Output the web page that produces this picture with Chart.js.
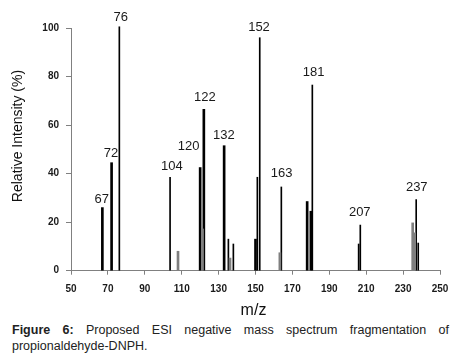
<!DOCTYPE html>
<html>
<head>
<meta charset="utf-8">
<script src="https://cdn.jsdelivr.net/npm/chart.js@4.4.0/dist/chart.umd.min.js"></script>
<style>
  html, body { margin: 0; padding: 0; background: #fff; }
  #wrap { position: relative; width: 457px; height: 359px; overflow: hidden; }
  #chartBox { position: absolute; left: 0; top: 0; width: 457px; height: 320px; }
  #caption {
    position: absolute; left: 12px; top: 323px; width: 437px;
    font-family: "Liberation Sans", Arial, sans-serif; font-size: 12.5px; line-height: 15.6px;
    color: #222; text-align: justify;
  }
  #caption b { font-weight: bold; }
</style>
</head>
<body>
<div id="wrap">
  <div id="chartBox"><canvas id="c" width="457" height="320"></canvas></div>
  <div id="caption"><b>Figure 6:</b> Proposed ESI negative mass spectrum fragmentation of propionaldehyde-DNPH.</div>
</div>
<script>
// ---- Data ----
// thick black peaks (m/z, relative intensity %)
const thickMz  = [67, 72, 120, 122, 133, 150, 178, 180];
const thickInt = [26, 44.5, 42.5, 66.5, 51.5, 13, 28.5, 24.5];
// thin black peaks
const thinMz   = [76.2, 103.7, 135.3, 138, 151, 152.3, 164, 180.8, 205.9, 206.8, 237.1, 238.2];
const thinInt  = [100.5, 38.5, 13, 11, 38.5, 96, 34.5, 76.5, 11, 18.8, 29.3, 11.4];
// grey peaks
const greyMz   = [108, 121.3, 136.2, 163.2, 235.2, 236.3];
const greyInt  = [8, 17.2, 5.2, 7.4, 19.7, 15.6];
// peak annotation labels and their anchor (m/z, intensity)
const labelText = ['67', '72', '76', '104', '120', '122', '132', '152', '163', '181', '207', '237'];
const labelMz   = [66.6, 71.7, 76.9, 104.7, 113.8, 122.5, 132.9, 151.9, 164.2, 181.5, 206.5, 237.4];
const labelInt  = [29.5, 48.4, 104.5, 42.9, 51.1, 71.3, 55.6, 100.3, 40.1, 81.9, 24.1, 34.4];
// axis ticks
const xTicks = [50, 70, 90, 110, 130, 150, 170, 190, 210, 230, 250];
const yTicks = [0, 20, 40, 60, 80, 100];
const xTitle = 'm/z';
const yTitle = 'Relative Intensity (%)';

const pts = (xs, ys) => xs.map((x, i) => ({ x: x, y: ys[i] }));

const FONT = '"Liberation Sans", Arial, sans-serif';

const annotate = {
  id: 'annotate',
  afterDatasetsDraw(chart) {
    const ctx = chart.ctx;
    const xs = chart.scales.x, ys = chart.scales.y;
    ctx.save();
    ctx.fillStyle = '#1a1a1a';
    ctx.font = '13px ' + FONT;
    ctx.textAlign = 'center';
    ctx.textBaseline = 'middle';
    labelText.forEach((t, i) => {
      ctx.fillText(t, xs.getPixelForValue(labelMz[i]), ys.getPixelForValue(labelInt[i]));
    });
    // axis titles
    ctx.fillStyle = '#111';
    ctx.font = '16px ' + FONT;
    ctx.fillText(xTitle, (xs.left + xs.right) / 2 - 2, 311);
    ctx.translate(18.5, ys.getPixelForValue(55.5));
    ctx.rotate(-Math.PI / 2);
    ctx.font = '14px ' + FONT;
    ctx.fillText(yTitle, 0, 0);
    ctx.restore();
  }
};

new Chart(document.getElementById('c'), {
  type: 'bar',
  data: {
    datasets: [
      { data: pts(greyMz, greyInt), backgroundColor: '#7f7f7f', barThickness: 2, grouped: false, clip: false },
      { data: pts(thickMz, thickInt), backgroundColor: '#000', barThickness: 2, grouped: false, clip: false },
      { data: pts(thinMz, thinInt), backgroundColor: '#000', barThickness: 1, grouped: false, clip: false }
    ]
  },
  options: {
    responsive: false,
    animation: false,
    layout: { padding: { top: 28, right: 17, left: 0, bottom: 0 } },
    plugins: { legend: { display: false }, tooltip: { enabled: false } },
    scales: {
      x: {
        type: 'linear', min: 50, max: 250, offset: false,
        afterBuildTicks: (s) => { s.ticks = xTicks.map(v => ({ value: v })); },
        afterFit: (s) => { s.height = 49.3; },
        grid: { display: true, drawOnChartArea: false, drawTicks: true, tickLength: 4, color: '#808080', offset: false },
        border: { display: true, color: '#808080', width: 1 },
        ticks: { color: '#1a1a1a', font: { family: FONT, size: 10, weight: 'bold' }, padding: 8.5, maxRotation: 0 }
      },
      y: {
        min: 0, max: 100,
        afterBuildTicks: (s) => { s.ticks = yTicks.map(v => ({ value: v })); },
        afterFit: (s) => { s.width = 71; },
        grid: { display: true, drawOnChartArea: false, drawTicks: true, tickLength: 5, color: '#808080' },
        border: { display: true, color: '#808080', width: 1 },
        ticks: { color: '#1a1a1a', font: { family: FONT, size: 10, weight: 'bold' }, padding: 7 }
      }
    }
  },
  plugins: [annotate]
});
</script>
</body>
</html>
